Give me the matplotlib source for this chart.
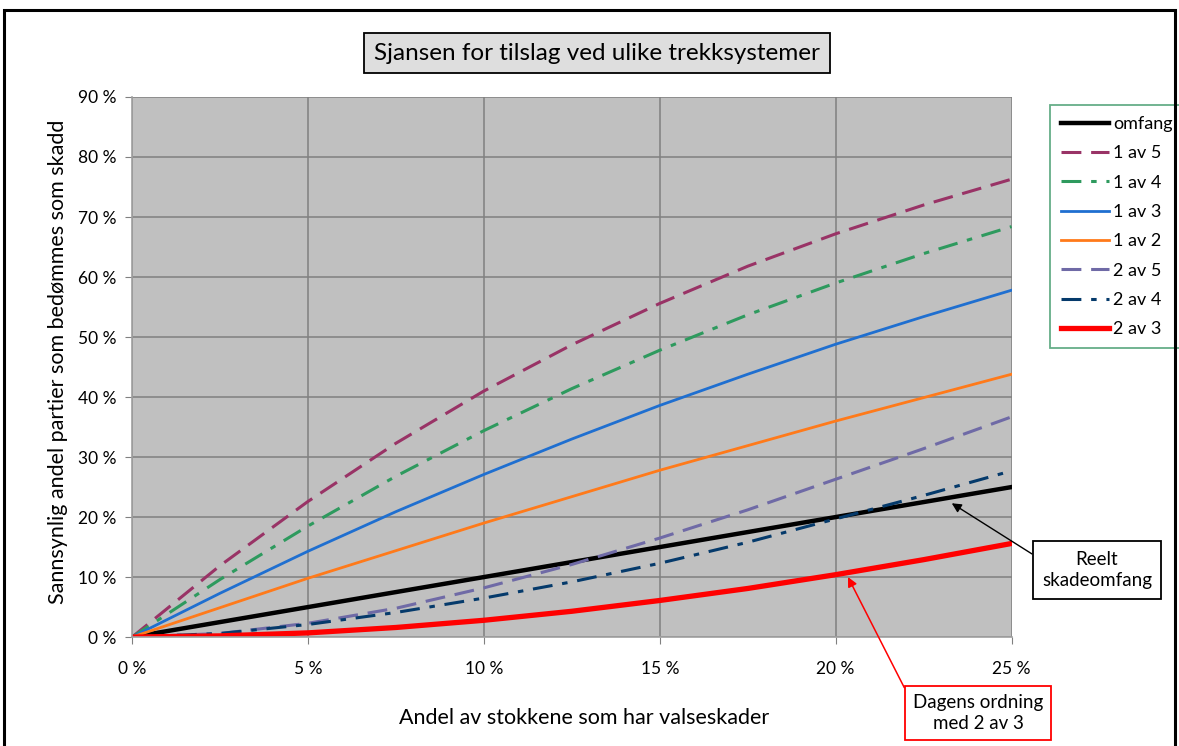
import matplotlib.pyplot as plt
from matplotlib.patches import Rectangle
from matplotlib.ticker import FuncFormatter

plt.rcParams['font.family'] = ['Lato', 'DejaVu Sans']

# share of logs with damage (%)
x = [0, 2.5, 5, 7.5, 10, 12.5, 15, 17.5, 20, 22.5, 25]

# probability that a lot is judged damaged (%)
omfang = [0, 2.5, 5, 7.5, 10, 12.5, 15, 17.5, 20, 22.5, 25]
en_av_5 = [0, 11.9, 22.6, 32.3, 41.0, 48.7, 55.6, 61.8, 67.2, 72.0, 76.3]
en_av_4 = [0, 9.6, 18.5, 26.8, 34.4, 41.4, 47.8, 53.7, 59.0, 63.9, 68.4]
en_av_3 = [0, 7.3, 14.3, 20.9, 27.1, 33.0, 38.6, 43.8, 48.8, 53.4, 57.8]
en_av_2 = [0, 4.9, 9.8, 14.4, 19.0, 23.4, 27.8, 31.9, 36.0, 39.9, 43.8]
to_av_5 = [0, 0.6, 2.3, 4.8, 8.2, 12.1, 16.5, 21.2, 26.3, 31.4, 36.7]
to_av_4 = [0, 0.6, 2.1, 4.1, 6.5, 9.2, 12.3, 15.8, 19.7, 23.6, 27.7]
to_av_3 = [0, 0.2, 0.7, 1.6, 2.8, 4.3, 6.1, 8.1, 10.4, 12.9, 15.6]

fig = plt.figure(figsize=(11.79, 7.46), dpi=100)
ax = fig.add_axes([0.112, 0.146, 0.746, 0.724])
ax.set_facecolor('#c0c0c0')

ax.plot(x, omfang, color='black', lw=3.2, label='omfang')
ax.plot(x, en_av_5, color='#993366', lw=2.2, dashes=(6.5, 3.2), label='1 av 5')
ax.plot(x, en_av_4, color='#2e9a5e', lw=2.2, dashes=(6.5, 3.2, 1.8, 3.2), label='1 av 4')
ax.plot(x, en_av_3, color='#1f6fd0', lw=2, label='1 av 3')
ax.plot(x, en_av_2, color='#ff7a1a', lw=2, label='1 av 2')
ax.plot(x, to_av_5, color='#6f6aa6', lw=2.2, dashes=(6.5, 3.2), label='2 av 5')
ax.plot(x, to_av_4, color='#053a6b', lw=2.2, dashes=(6.5, 3.2, 1.8, 3.2), label='2 av 4')
ax.plot(x, to_av_3, color='#ff0000', lw=3.8, label='2 av 3')

ax.set_xlim(0, 25)
ax.set_ylim(0, 90)
ax.set_xticks(range(0, 26, 5))
ax.set_yticks(range(0, 91, 10))
pct = FuncFormatter(lambda v, p: f'{v:.0f} %')
ax.xaxis.set_major_formatter(pct)
ax.yaxis.set_major_formatter(pct)
ax.tick_params(direction='out', length=5, color='#808080', labelsize=12.5, pad=6)
ax.tick_params(axis='x', pad=12)
ax.grid(True, color='#808080', lw=1.1)
ax.set_axisbelow(True)
for s in ['top', 'right']:
    ax.spines[s].set_visible(False)
for s in ['left', 'bottom']:
    ax.spines[s].set_color('#a0a0a0')
    ax.spines[s].set_linewidth(1.2)

fig.text(584 / 1179, 1 - 718 / 746, 'Andel av stokkene som har valseskader',
         ha='center', va='center', fontsize=15.5)
fig.text(58 / 1179, 1 - 362 / 746, 'Sannsynlig andel partier som bedømmes som skadd',
         ha='center', va='center', rotation=90, fontsize=15.5)

fig.text(597 / 1179, 1 - 53 / 746, 'Sjansen for tilslag ved ulike trekksystemer',
         ha='center', va='center', fontsize=17.5,
         bbox=dict(boxstyle='square,pad=0.4', fc='#dedede', ec='black', lw=1.3))

leg = ax.legend(loc='upper left', bbox_to_anchor=(1050 / 1179, 1 - 105 / 746),
                bbox_transform=fig.transFigure, fontsize=13, frameon=True,
                fancybox=False, edgecolor='#3f9a6a', handlelength=2.65,
                labelspacing=0.74, borderpad=0.6, handletextpad=0.25,
                borderaxespad=0)
leg.get_frame().set_linewidth(1.3)

ax.annotate('Reelt\nskadeomfang', xy=(23.3, 22.3),
            xytext=(1097 / 1179, 1 - 570 / 746), textcoords='figure fraction',
            ha='center', va='center', fontsize=13.5, linespacing=1.35,
            bbox=dict(boxstyle='square,pad=0.5', fc='white', ec='black', lw=1.3),
            arrowprops=dict(arrowstyle='-|>', color='black', lw=1,
                            relpos=(0, 0.75), shrinkA=0, shrinkB=0,
                            mutation_scale=14))
ax.annotate('Dagens ordning\nmed 2 av 3', xy=(20.35, 10.0),
            xytext=(978 / 1179, 1 - 713 / 746), textcoords='figure fraction',
            ha='center', va='center', fontsize=13.5, linespacing=1.35,
            bbox=dict(boxstyle='square,pad=0.42', fc='white', ec='#ff0000', lw=1.3),
            arrowprops=dict(arrowstyle='-|>', color='#ff0000', lw=1.1,
                            relpos=(0, 0.72), shrinkA=0, shrinkB=0,
                            mutation_scale=14))

fig.patches.append(Rectangle((4 / 1179, -0.05), 1171 / 1179, 1.05 - 10 / 746,
                             transform=fig.transFigure, fill=False,
                             ec='black', lw=2.2))

plt.savefig('out.png', dpi=100)
